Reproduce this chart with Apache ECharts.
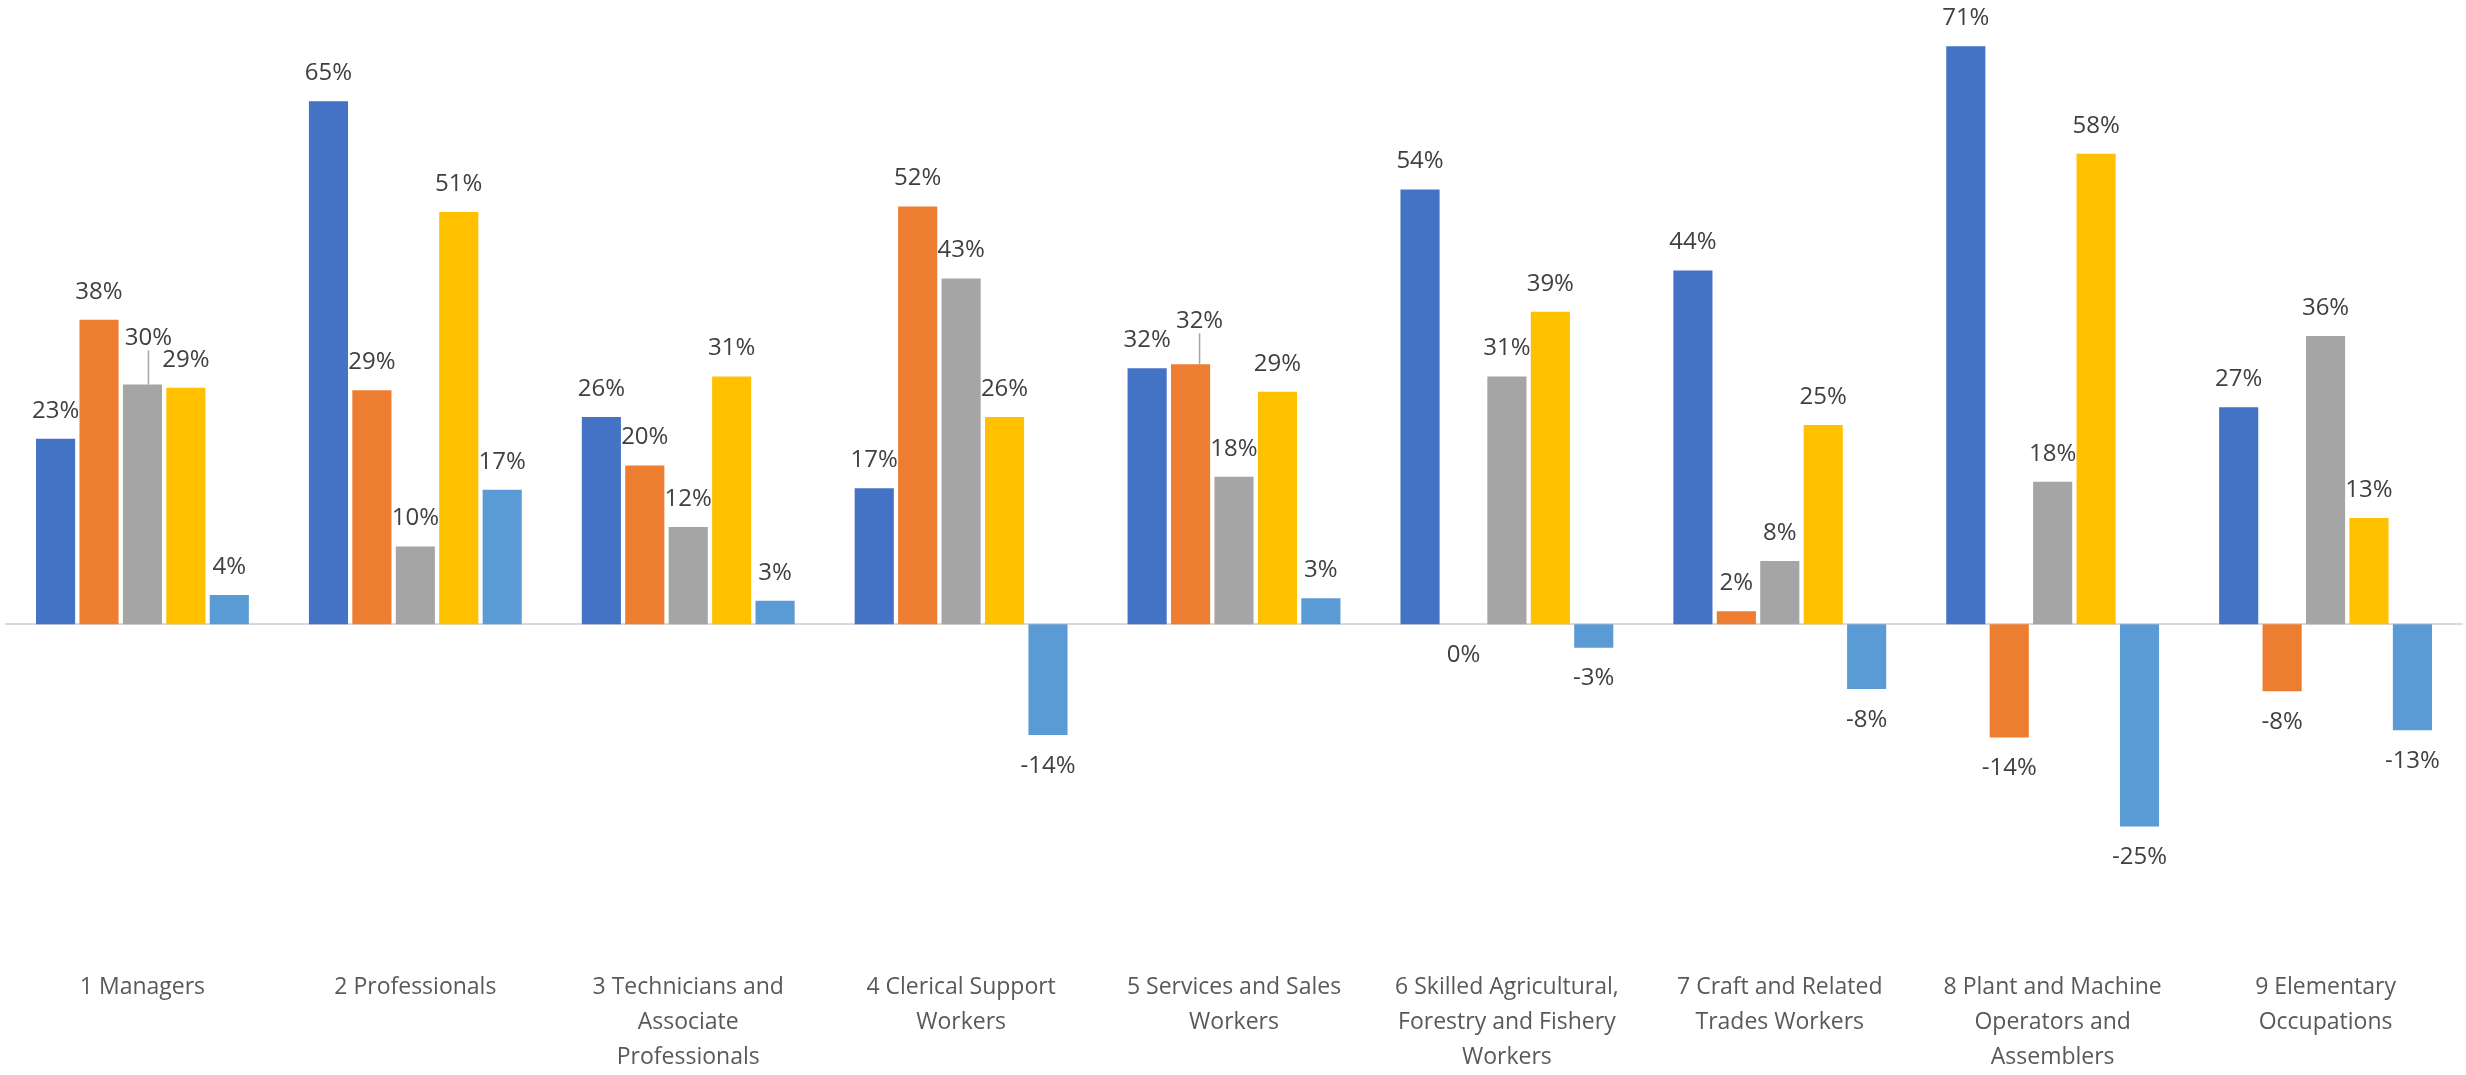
<!DOCTYPE html>
<html>
<head>
<meta charset="utf-8">
<script src="https://cdn.jsdelivr.net/npm/echarts@6/dist/echarts.min.js"></script>
<style>
html,body{margin:0;padding:0;background:#ffffff;}
#chart{width:2466px;height:1075px;}
</style>
</head>
<body>
<div id="chart"></div>
<script>
// ---- data ----
const categories = [
  '1 Managers',
  '2 Professionals',
  '3 Technicians and\nAssociate\nProfessionals',
  '4 Clerical Support\nWorkers',
  '5 Services and Sales\nWorkers',
  '6 Skilled Agricultural,\nForestry and Fishery\nWorkers',
  '7 Craft and Related\nTrades Workers',
  '8 Plant and Machine\nOperators and\nAssemblers',
  '9 Elementary\nOccupations'
];
const seriesNames = ['Series1', 'Series2', 'Series3', 'Series4', 'Series5'];
const series1 = [0.229, 0.646, 0.256, 0.168, 0.316, 0.537, 0.437, 0.714, 0.268];
const series2 = [0.376, 0.289, 0.196, 0.516, 0.321, 0.000, 0.016, -0.140, -0.083];
const series3 = [0.296, 0.096, 0.120, 0.427, 0.182, 0.306, 0.078, 0.176, 0.356];
const series4 = [0.292, 0.509, 0.306, 0.256, 0.287, 0.386, 0.246, 0.581, 0.131];
const series5 = [0.036, 0.166, 0.029, -0.137, 0.032, -0.029, -0.080, -0.250, -0.131];

// ---- styling ----
const colors = ['#4472C4', '#ED7D31', '#A5A5A5', '#FFC000', '#5B9BD5'];
const allSeries = [series1, series2, series3, series4, series5];
// labels moved off their bar (with a leader line): "seriesIndex-dataIndex": [dx, dy]
const movedLabels = { '2-0': [6, -18], '1-4': [9, -15] };

const chart = echarts.init(document.getElementById('chart'), null, { renderer: 'canvas' });

const option = {
  backgroundColor: '#ffffff',
  animation: false,
  grid: { left: 6, right: 4, top: 17, bottom: 116, containLabel: false },
  xAxis: [
    {
      type: 'category',
      data: categories,
      position: 'bottom',
      axisLine: { show: false, onZero: false },
      axisTick: { show: false },
      axisLabel: {
        interval: 0,
        margin: 22,
        color: '#595959',
        fontFamily: 'Open Sans',
        fontSize: 23,
        lineHeight: 35,
        align: 'center'
      }
    },
    {
      type: 'category',
      data: categories,
      position: 'top',
      axisLine: { show: true, onZero: true, lineStyle: { color: '#D9D9D9', width: 2 } },
      axisTick: { show: false },
      axisLabel: { show: false }
    }
  ],
  yAxis: {
    type: 'value',
    min: -0.4,
    max: 0.75,
    show: false,
    splitLine: { show: false }
  },
  series: allSeries.map((vals, si) => ({
    type: 'bar',
    name: seriesNames[si],
    xAxisIndex: 0,
    barGap: '11%',
    barCategoryGap: '22%',
    itemStyle: { color: colors[si] },
    label: {
      show: true,
      formatter: p => Math.round(p.value * 100) + '%',
      color: '#404040',
      fontFamily: 'Open Sans',
      fontSize: 24
    },
    labelLine: { show: false, lineStyle: { color: '#A6A6A6', width: 1.5 } },
    labelLayout: p => {
      const m = movedLabels[si + '-' + p.dataIndex];
      return m ? { dx: m[0], dy: m[1] } : {};
    },
    data: vals.map((v, i) => {
      const item = {
        value: v,
        label: { position: v > 0 ? 'top' : 'bottom', distance: v > 0 ? 16 : 19 }
      };
      if (movedLabels[si + '-' + i]) item.labelLine = { show: true };
      return item;
    })
  }))
};

chart.setOption(option);
</script>
</body>
</html>
